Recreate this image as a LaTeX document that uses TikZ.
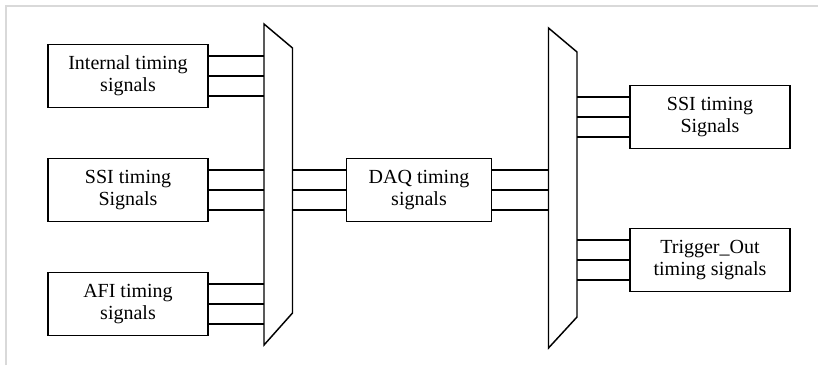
\documentclass[tikz,border=0pt]{standalone}
\usepackage{fontspec}
\setmainfont{Liberation Serif}
\usetikzlibrary{calc}
\begin{document}
\begin{tikzpicture}[x=0.75pt, y=-0.75pt,
		sigbox/.style={draw, line width=1.1pt, minimum width=120pt, minimum height=47pt,
			inner sep=0pt, align=center, font=\fontsize{15}{16.5}\selectfont},
		daqbox/.style={sigbox, minimum width=109pt},
		wire/.style={line width=1.1pt},
		mux/.style={line width=1.1pt, line join=miter},
		frame/.style={draw=gray!30, line width=1.5pt}]

		\useasboundingbox (0,0) rectangle (818,365);
		\draw[frame] (6,365) -- (6,6) -- (818,6);

		\node[sigbox] (int) at (128,76) {Internal timing\\signals};
		\node[sigbox] (ssi) at (128,190) {SSI timing\\Signals};
		\node[sigbox] (afi) at (128,304) {AFI timing\\signals};
		\node[daqbox] (daq) at (419,190) {DAQ timing\\signals};
		\node[sigbox] (ssiout) at (710,117) {SSI timing\\Signals};
		\node[sigbox] (trig) at (710,260) {Trigger\_Out\\timing signals};

		\coordinate (m1a) at (264,24);
		\coordinate (m1b) at (292.5,48);
		\coordinate (m1c) at (292.5,313);
		\coordinate (m1d) at (264,345);
		\coordinate (m2a) at (548.5,28);
		\coordinate (m2b) at (577,52);
		\coordinate (m2c) at (577,317);
		\coordinate (m2d) at (548.5,348);

		\draw[mux] (m1a) -- (m1b) -- (m1c) -- (m1d) -- cycle;
		\draw[mux] (m2a) -- (m2b) -- (m2c) -- (m2d) -- cycle;

		\foreach \n in {int, ssi, afi}
			\foreach \d in {-20, 0, 20}
				\draw[wire] ($(\n.east)+(0,\d)$) -- ($(\n.east -| m1a)+(0,\d)$);
		\foreach \d in {-20, 0, 20} {
			\draw[wire] ($(daq.west -| m1b)+(0,\d)$) -- ($(daq.west)+(0,\d)$);
			\draw[wire] ($(daq.east)+(0,\d)$) -- ($(daq.east -| m2a)+(0,\d)$);
		}
		\foreach \n in {ssiout, trig}
			\foreach \d in {-20, 0, 20}
				\draw[wire] ($(\n.west -| m2b)+(0,\d)$) -- ($(\n.west)+(0,\d)$);
	\end{tikzpicture}
\end{document}
